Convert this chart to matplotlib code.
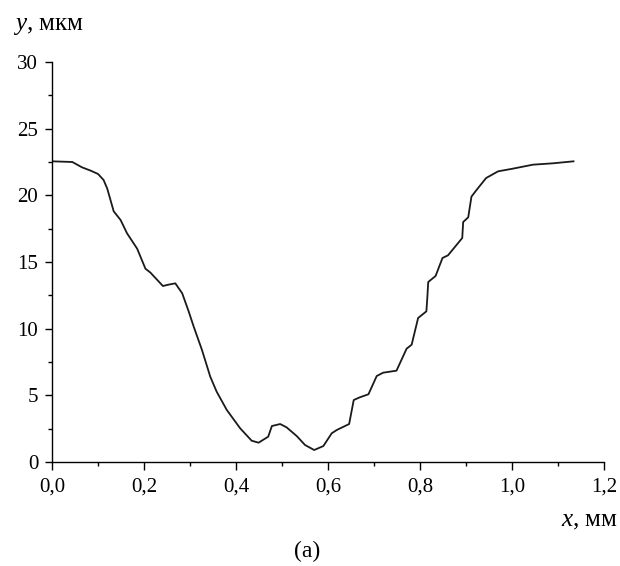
import matplotlib
matplotlib.use("Agg")
import matplotlib.pyplot as plt
from matplotlib.ticker import MultipleLocator, FuncFormatter

plt.rcParams['font.family'] = ['Liberation Serif', 'DejaVu Serif']
plt.rcParams['mathtext.fontset'] = 'custom'
plt.rcParams['mathtext.rm'] = 'Liberation Serif'
plt.rcParams['mathtext.it'] = 'Liberation Serif:italic'

# profile: x in mm, y in um
x_mm = [0.0, 0.044, 0.065, 0.084, 0.100, 0.112, 0.120, 0.127, 0.134, 0.149,
        0.163, 0.185, 0.203, 0.214, 0.241, 0.253, 0.268, 0.283, 0.297, 0.308,
        0.326, 0.344, 0.358, 0.380, 0.409, 0.434, 0.449, 0.470, 0.478, 0.496,
        0.510, 0.532, 0.550, 0.570, 0.590, 0.608, 0.619, 0.646, 0.656, 0.669,
        0.688, 0.706, 0.720, 0.749, 0.771, 0.782, 0.796, 0.814, 0.816, 0.818,
        0.834, 0.849, 0.861, 0.892, 0.894, 0.905, 0.912, 0.923, 0.944, 0.970,
        1.002, 1.046, 1.089, 1.134]
y_um = [22.55, 22.5, 22.1, 21.85, 21.6, 21.15, 20.5, 19.65, 18.8, 18.15,
        17.15, 16.0, 14.5, 14.2, 13.2, 13.3, 13.4, 12.65, 11.3, 10.15,
        8.4, 6.4, 5.27, 3.9, 2.53, 1.6, 1.45, 1.9, 2.7, 2.85,
        2.6, 1.95, 1.28, 0.9, 1.2, 2.15, 2.4, 2.85, 4.65, 4.85,
        5.08, 6.45, 6.7, 6.85, 8.5, 8.8, 10.8, 11.3, 12.3, 13.5,
        13.95, 15.3, 15.5, 16.8, 18.0, 18.35, 19.9, 20.4, 21.3, 21.8,
        22.0, 22.3, 22.4, 22.55]

fig = plt.figure(figsize=(6.2, 5.66), dpi=100)
ax = fig.add_axes([0.084, 0.1837, 0.890, 0.7068])

ax.plot(x_mm, y_um, color='#1a1a1a', lw=1.3, solid_joinstyle='round')

ax.set_xlim(0, 1.2)
ax.set_ylim(0, 30)
ax.spines['top'].set_visible(False)
ax.spines['right'].set_visible(False)
for s in ('left', 'bottom'):
    ax.spines[s].set_linewidth(1.0)

comma = FuncFormatter(lambda v, p: f"{v:.1f}".replace('.', ','))
ax.xaxis.set_major_locator(MultipleLocator(0.2))
ax.xaxis.set_minor_locator(MultipleLocator(0.1))
ax.xaxis.set_major_formatter(comma)
ax.yaxis.set_major_locator(MultipleLocator(5))
ax.yaxis.set_minor_locator(MultipleLocator(2.5))
ax.tick_params(which='major', direction='out', length=6, width=1.0,
               labelsize=15, pad=5)
ax.tick_params(which='minor', direction='out', length=3, width=1.0)
ax.tick_params(axis='y', which='major', length=5)

fig.text(0.021, 0.947, "$y$, мкм", fontsize=18, ha='left', va='baseline')
fig.text(0.997, 0.069, "$x$, мм", fontsize=18, ha='right', va='baseline')
fig.text(0.495, 0.016, "(a)", fontsize=17, ha='center', va='baseline')

fig.savefig("out.png", dpi=100)
